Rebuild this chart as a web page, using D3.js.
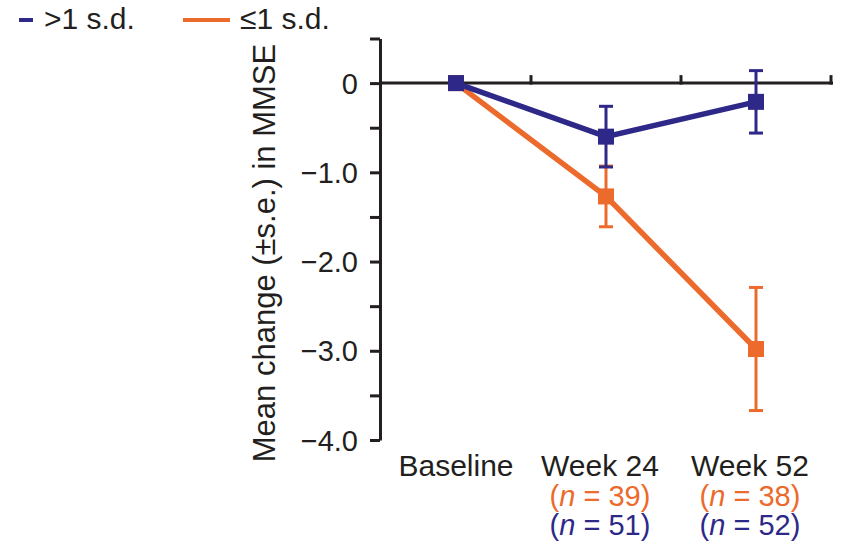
<!DOCTYPE html>
<html>
<head>
<meta charset="utf-8">
<script src="https://cdn.jsdelivr.net/npm/d3@7"></script>
<style>
 body{margin:0;background:#fff;}
 text{font-family:"Liberation Sans",Arial,Helvetica,sans-serif;}
</style>
</head>
<body>
<div id="chart"></div>
<script>
// data
var categories = ["Baseline", "Week 24", "Week 52"];
var highMean = [0, -0.6, -0.21];     // >1 s.d.
var highSe   = [0, 0.34, 0.35];
var lowMean  = [0, -1.27, -2.98];    // <=1 s.d.
var lowSe    = [0, 0.34, 0.69];
var lowN  = ["", "39", "38"];
var highN = ["", "51", "52"];
var yTicks = [0, -1, -2, -3, -4];
var yTickLabels = ["0", "\u22121.0", "\u22122.0", "\u22123.0", "\u22124.0"];

var blue = "#2e2888", orange = "#ec6a2c", ink = "#231f20";
var width = 841, height = 544;

var svg = d3.select("#chart").append("svg")
  .attr("width", width).attr("height", height);

var x = d3.scaleBand().domain(categories).range([381, 831]);
var y = d3.scaleLinear().domain([-4, 0.5]).range([440, 38.5]);

// y axis
var yAxis = d3.axisLeft(y)
  .tickValues(d3.range(-4, 0.51, 0.5))
  .tickSize(10)
  .tickSizeOuter(0)
  .tickFormat(function(d){
    var i = yTicks.indexOf(d);
    return i >= 0 ? yTickLabels[i] : "";
  });
var gy = svg.append("g").attr("transform", "translate(380,0)").call(yAxis);
gy.select(".domain").attr("stroke", ink).attr("stroke-width", 3);
gy.selectAll(".tick line").attr("stroke", ink).attr("stroke-width", 3);
gy.selectAll(".tick text").attr("font-size", 29).attr("fill", ink).attr("x", -22).attr("dy", "0.35em");

// x axis along zero
var xAxis = d3.axisTop(x).tickSize(0).tickFormat("");
var gx = svg.append("g").attr("transform", "translate(0," + y(0) + ")").call(xAxis);
gx.select(".domain").attr("d", "M380,0H833").attr("stroke", ink).attr("stroke-width", 3);
categories.forEach(function(c){
  gx.append("line")
    .attr("x1", x(c) + x.bandwidth()).attr("x2", x(c) + x.bandwidth())
    .attr("y1", 1.5).attr("y2", -8)
    .attr("stroke", ink).attr("stroke-width", 3);
});

// category labels (week labels sit a little left of the points in the original)
var lab = svg.append("g");
categories.forEach(function(c, i){
  var cx = x(c) + x.bandwidth() / 2 - (i > 0 ? 6 : 0);
  lab.append("text").attr("x", cx).attr("y", 476).attr("text-anchor", "middle")
    .attr("font-size", 30).attr("fill", ink).text(c);
  if (lowN[i]) {
    var t1 = lab.append("text").attr("x", cx).attr("y", 506).attr("text-anchor", "middle")
      .attr("font-size", 29).attr("fill", orange);
    t1.append("tspan").text("(");
    t1.append("tspan").attr("font-style", "italic").text("n");
    t1.append("tspan").text(" = " + lowN[i] + ")");
    var t2 = lab.append("text").attr("x", cx).attr("y", 535).attr("text-anchor", "middle")
      .attr("font-size", 29).attr("fill", blue);
    t2.append("tspan").text("(");
    t2.append("tspan").attr("font-style", "italic").text("n");
    t2.append("tspan").text(" = " + highN[i] + ")");
  }
});

// y title
svg.append("text")
  .attr("transform", "translate(275,253) rotate(-90)")
  .attr("text-anchor", "middle").attr("font-size", 31).attr("fill", ink)
  .text("Mean change (\u00b1s.e.) in MMSE");

function drawSeries(mean, se, color) {
  var g = svg.append("g");
  var pts = categories.map(function(c, i){ return {c: c, m: mean[i], s: se[i]}; });
  var line = d3.line()
    .x(function(d){ return x(d.c) + x.bandwidth() / 2; })
    .y(function(d){ return y(d.m); });
  g.append("path").datum(pts).attr("d", line)
    .attr("fill", "none").attr("stroke", color).attr("stroke-width", 5.5);
  pts.filter(function(d){ return d.s > 0; }).forEach(function(d){
    var cx = x(d.c) + x.bandwidth() / 2;
    g.append("line").attr("x1", cx).attr("x2", cx)
      .attr("y1", y(d.m + d.s)).attr("y2", y(d.m - d.s))
      .attr("stroke", color).attr("stroke-width", 3);
    [d.m + d.s, d.m - d.s].forEach(function(v){
      g.append("line").attr("x1", cx - 7).attr("x2", cx + 7)
        .attr("y1", y(v)).attr("y2", y(v))
        .attr("stroke", color).attr("stroke-width", 3);
    });
  });
  g.selectAll("rect").data(pts).enter().append("rect")
    .attr("x", function(d){ return x(d.c) + x.bandwidth() / 2 - 8; })
    .attr("y", function(d){ return y(d.m) - 8; })
    .attr("width", 16).attr("height", 16)
    .attr("fill", color);
}
drawSeries(lowMean, lowSe, orange);
drawSeries(highMean, highSe, blue);

// legend
var leg = svg.append("g");
leg.append("line").attr("x1", 19).attr("x2", 33).attr("y1", 20).attr("y2", 20)
  .attr("stroke", blue).attr("stroke-width", 4);
leg.append("text").attr("x", 44).attr("y", 29).attr("font-size", 30).attr("fill", ink).text(">1 s.d.");
leg.append("line").attr("x1", 183).attr("x2", 230).attr("y1", 20).attr("y2", 20)
  .attr("stroke", orange).attr("stroke-width", 4);
leg.append("text").attr("x", 240).attr("y", 29).attr("font-size", 30).attr("fill", ink).text("\u22641 s.d.");
</script>
</body>
</html>
